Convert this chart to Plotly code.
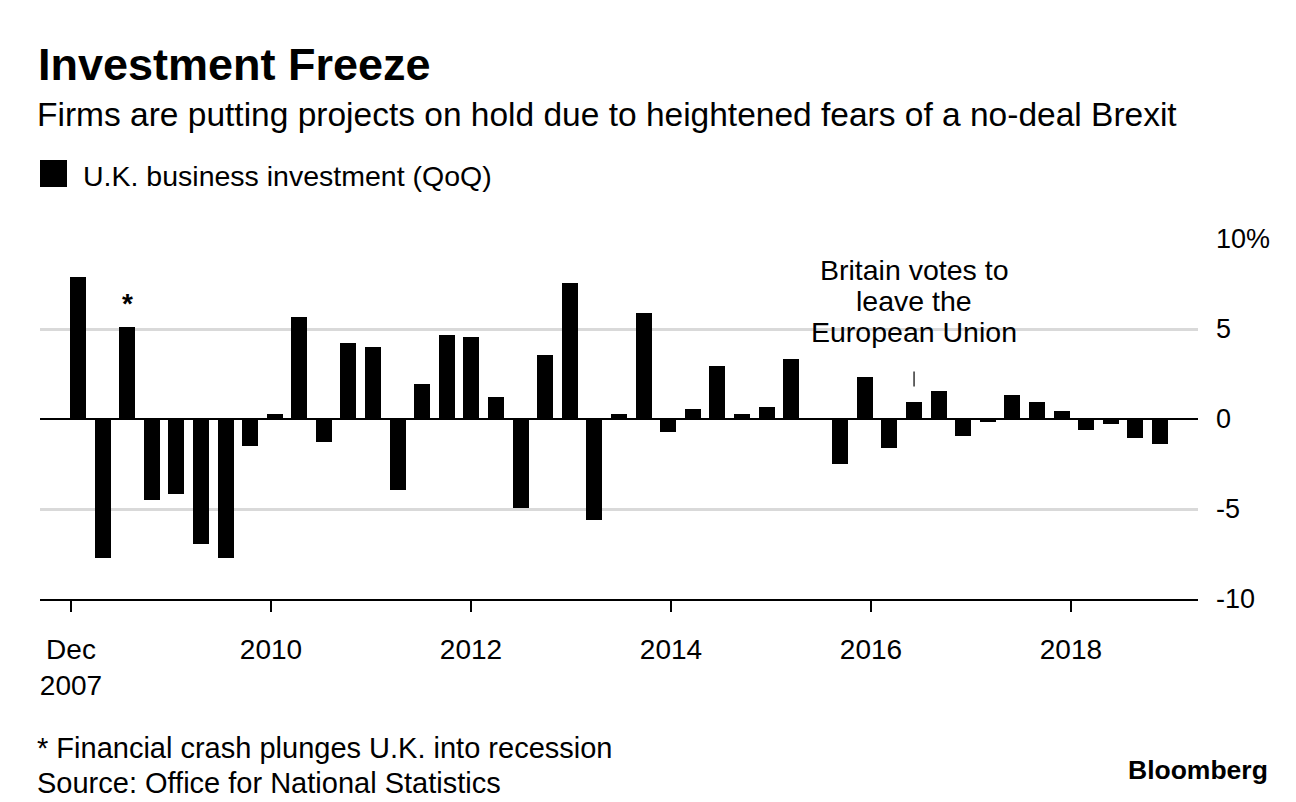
import plotly.graph_objects as go
import pandas as pd

# ---------------- data ----------------
quarters = [str(p) for p in pd.period_range("2007Q4", "2018Q4", freq="Q")]
investment_qoq = [
    7.88, -7.71, 5.12, -4.51, -4.16, -6.92, -7.71, -1.51, 0.27, 5.68,
    -1.27, 4.23, 4.01, -3.94, 1.92, 4.68, 4.57, 1.25, -4.94, 3.57,
    7.57, -5.60, 0.27, 5.90, -0.73, 0.58, 2.92, 0.27, 0.69, 3.34,
    -0.05, -2.49, 2.36, -1.60, 0.92, 1.58, -0.95, -0.18, 1.36, 0.92,
    0.47, -0.62, -0.29, -1.07, -1.40,
]
x_tick_labels = ["Dec<br>2007", "2010", "2012", "2014", "2016", "2018"]
y_tick_values = [-10, -5, 0, 5, 10]
y_tick_labels = ["-10", "-5", "0", "5", "10%"]
crash_quarter = "2008Q2"
brexit_quarter = "2016Q2"

title = "Investment Freeze"
subtitle = "Firms are putting projects on hold due to heightened fears of a no-deal Brexit"
legend_label = "U.K. business investment (QoQ)"
brexit_lines = ["Britain votes to", "leave the", "European Union"]
footnote = "* Financial crash plunges U.K. into recession"
source = "Source: Office for National Statistics"
brand = "Bloomberg"

# ---------------- layout helpers ----------------
W, H = 1296, 802
# plot-area edges in page pixels
L, R, T, B = 40, 1198, 239, 599
FONT = "Liberation Sans, Arial, Helvetica, sans-serif"


def px_x(p):
    return (p - L) / (R - L)


def px_y(p):
    return (B - p) / (B - T)


xs = list(range(len(quarters)))
crash_i = quarters.index(crash_quarter)
brexit_i = quarters.index(brexit_quarter)

fig = go.Figure()
fig.add_trace(
    go.Bar(
        x=xs,
        y=investment_qoq,
        customdata=quarters,
        width=0.65,
        marker=dict(color="#000000", line=dict(width=0)),
        name=legend_label,
        showlegend=False,
        hovertemplate="%{customdata}: %{y:.1f}%<extra></extra>",
    )
)

tick_pos = [-0.285 + 8.133 * k for k in range(len(x_tick_labels))]

fig.update_layout(
    width=W,
    height=H,
    margin=dict(l=L, r=W - R, t=T, b=H - B, pad=0),
    paper_bgcolor="white",
    plot_bgcolor="white",
    font=dict(family=FONT, color="#000000"),
    bargap=0,
    xaxis=dict(
        range=[-1.545, 45.547],
        tickmode="array",
        tickvals=tick_pos,
        ticktext=x_tick_labels,
        ticks="outside",
        ticklen=11,
        tickwidth=2,
        tickcolor="#000000",
        showline=True,
        linecolor="#000000",
        linewidth=2,
        showgrid=False,
        zeroline=False,
        tickfont=dict(size=28, family=FONT, color="#000000"),
        ticklabelstandoff=13,
        fixedrange=True,
    ),
    yaxis=dict(
        range=[-10, 10],
        side="right",
        tickmode="array",
        tickvals=y_tick_values,
        ticktext=y_tick_labels,
        ticks="",
        showgrid=True,
        gridcolor="#d9d9d9",
        gridwidth=2.5,
        zeroline=True,
        zerolinecolor="#000000",
        zerolinewidth=2,
        showline=False,
        tickfont=dict(size=27, family=FONT, color="#000000"),
        ticklabelstandoff=17,
        fixedrange=True,
    ),
)

annotations = [
    dict(text=f"<b>{title}</b>", x=px_x(36), y=px_y(65), xanchor="left", yanchor="middle",
         font=dict(size=45, family=FONT, color="#000000")),
    dict(text=subtitle, x=px_x(35), y=px_y(114.7), xanchor="left", yanchor="middle",
         font=dict(size=33.5, family=FONT, color="#000000")),
    dict(text=legend_label, x=px_x(81), y=px_y(176), xanchor="left", yanchor="middle",
         font=dict(size=28.5, family=FONT, color="#000000")),
    dict(text=footnote, x=px_x(35), y=px_y(748), xanchor="left", yanchor="middle",
         font=dict(size=29, family=FONT, color="#000000")),
    dict(text=source, x=px_x(35), y=px_y(783), xanchor="left", yanchor="middle",
         font=dict(size=29, family=FONT, color="#000000")),
    dict(text=f"<b>{brand}</b>", x=px_x(1270), y=px_y(769.5), xanchor="right", yanchor="middle",
         font=dict(size=26.5, family=FONT, color="#000000")),
]
for a in annotations:
    a.update(xref="paper", yref="paper", showarrow=False)

# asterisk over the financial-crash bar
annotations.append(dict(text="<b>*</b>", x=crash_i, y=investment_qoq[crash_i], xref="x", yref="y",
                        xanchor="center", yanchor="middle", yshift=23, showarrow=False,
                        font=dict(size=28, family=FONT, color="#000000")))

# Brexit annotation lines (centered on the referendum quarter)
for line, yc in zip(brexit_lines, [269.7, 301.0, 331.7]):
    annotations.append(dict(text=line, x=brexit_i, xref="x", y=px_y(yc), yref="paper",
                            xanchor="center", yanchor="middle", showarrow=False,
                            font=dict(size=28.5, family=FONT, color="#000000")))

fig.update_layout(annotations=annotations)

shapes = [
    # legend swatch
    dict(type="rect", xref="paper", yref="paper", x0=px_x(40), x1=px_x(67), y0=px_y(187), y1=px_y(160),
         fillcolor="#000000", line=dict(width=0)),
    # Brexit marker tick
    dict(type="line", xref="x", yref="y", x0=brexit_i, x1=brexit_i, y0=1.8, y1=2.64,
         line=dict(color="#333333", width=1.5)),
]
fig.update_layout(shapes=shapes)

fig.write_html(
    "out.html",
    config={"displayModeBar": False, "staticPlot": False},
    post_script="document.body.style.margin='0';document.body.style.overflow='hidden';",
)
